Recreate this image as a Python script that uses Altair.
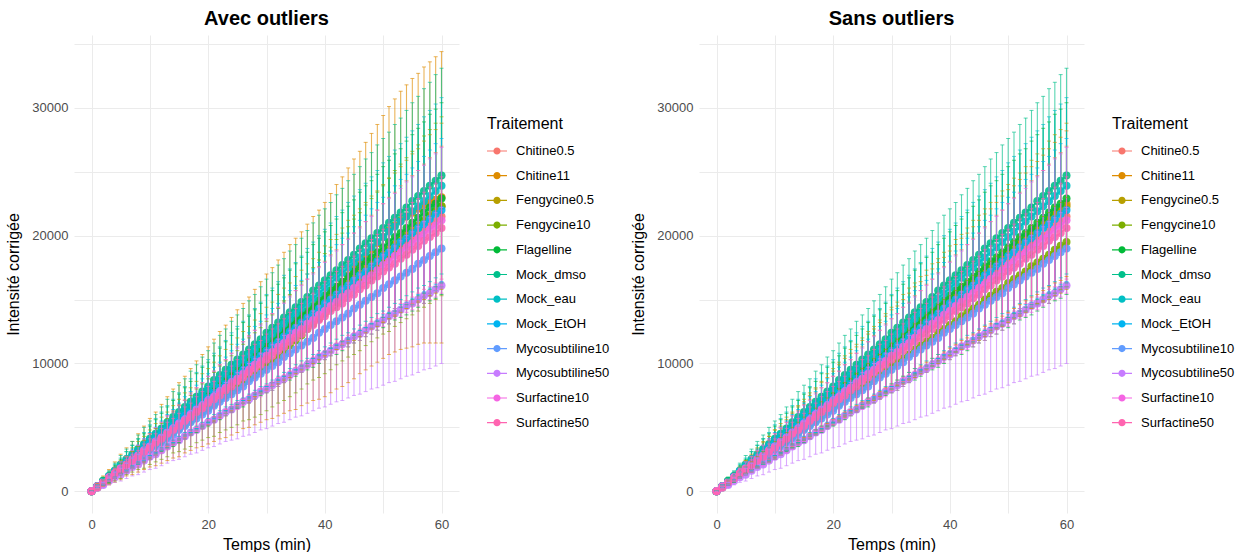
import altair as alt
import pandas as pd

TIMES = list(range(61))
TREATMENTS = ["Chitine0.5", "Chitine11", "Fengycine0.5", "Fengycine10", "Flagelline",
              "Mock_dmso", "Mock_eau", "Mock_EtOH", "Mycosubtiline10", "Mycosubtiline50",
              "Surfactine10", "Surfactine50"]
COLORS = ["#F8766D", "#DE8C00", "#B79F00", "#7CAE00", "#00BA38", "#00C08B",
          "#00BFC4", "#00B4F0", "#619CFF", "#C77CFF", "#F564E3", "#FF64B0"]

# Mean corrected intensity, in hundreds, one value per minute (0..60)
M_CHITINE05 = [0,4,7,11,14,18,21,25,29,32,36,39,43,47,50,54,57,61,64,68,72,75,79,82,86,90,93,97,100,104,107,111,115,118,122,125,129,132,136,140,143,147,150,154,158,161,165,168,172,175,179,183,186,190,193,197,200,204,208,211,215]
M_CHITINE11_AVEC = [0,4,8,11,15,19,23,26,30,34,38,41,45,49,53,56,60,64,68,71,75,79,83,86,90,94,98,101,105,109,113,116,120,124,128,131,135,139,143,146,150,155,160,164,169,174,179,184,189,194,199,204,208,212,215,218,221,224,226,228,230]
M_CHITINE11_SANS = [0,4,8,11,15,19,23,26,30,34,38,41,45,49,53,56,60,64,68,71,75,79,83,86,90,94,98,101,105,109,113,116,120,124,128,131,135,139,143,146,150,154,158,161,165,169,173,176,180,184,188,191,195,199,203,206,210,214,218,221,225]
M_FENGY05 = [0,4,7,11,15,19,22,26,30,33,37,41,45,48,52,56,60,63,67,71,74,78,82,86,89,93,97,100,104,108,112,115,119,123,126,130,134,138,141,145,149,153,156,160,164,167,171,175,179,182,186,190,193,197,201,205,208,212,216,219,223]
M_FENGY10_AVEC = [0,3,7,10,13,16,20,23,26,29,33,36,39,42,46,49,52,55,59,62,65,68,72,75,78,81,85,88,91,94,98,102,106,110,114,118,122,127,131,135,139,143,148,152,156,160,164,169,173,177,181,185,190,194,198,202,206,211,215,219,223]
M_FENGY10_SANS = [0,3,7,10,13,16,20,23,26,29,33,36,39,42,46,49,52,55,59,62,65,68,72,75,78,81,85,88,91,94,98,101,104,107,111,114,117,120,124,127,130,133,137,140,143,146,150,153,156,159,163,166,169,172,176,179,182,185,189,192,195]
M_FLAG = [0,4,8,11,15,19,23,27,31,34,38,42,46,50,53,57,61,65,69,73,76,80,84,88,92,96,99,103,107,111,115,118,122,126,130,134,138,141,145,149,153,157,160,164,168,172,176,180,183,187,191,195,199,202,206,210,214,218,222,225,229]
M_DMSO = [0,4,8,12,16,21,25,29,33,37,41,45,49,54,58,62,66,70,74,78,82,87,91,95,99,103,107,111,115,119,124,128,132,136,140,144,148,152,157,161,165,169,173,177,181,185,190,194,198,202,206,210,214,218,222,227,231,235,239,243,247]
M_EAU = [0,4,8,12,16,20,24,28,32,36,40,44,48,52,56,60,64,68,72,76,80,84,88,92,96,100,103,107,111,115,119,123,127,131,135,139,143,147,151,155,159,163,167,171,175,179,183,187,191,195,199,203,207,211,215,219,223,227,231,235,239]
M_ETOH = [0,4,7,11,15,18,22,26,29,33,37,40,44,48,51,55,59,62,66,70,73,77,81,84,88,92,95,99,103,106,110,114,117,121,125,128,132,136,139,143,147,150,154,158,161,165,169,172,176,180,184,187,191,195,198,202,206,209,213,217,220]
M_MYCO10 = [0,3,6,10,13,16,19,22,25,29,32,35,38,41,44,48,51,54,57,60,63,67,70,73,76,79,82,86,89,92,95,98,101,105,108,111,114,117,120,124,127,130,133,136,139,143,146,149,152,155,159,162,165,168,171,174,178,181,184,187,190]
M_MYCO50 = [0,3,5,8,11,13,16,19,21,24,27,29,32,35,38,40,43,46,48,51,54,56,59,62,64,67,70,72,75,78,80,83,86,88,91,94,96,99,102,105,107,110,113,115,118,121,123,126,129,131,134,137,139,142,145,147,150,153,155,158,161]
M_SURF10 = [0,4,7,11,14,18,21,25,28,32,35,39,42,46,49,53,56,60,64,67,71,74,78,81,85,88,92,95,99,102,106,109,113,116,120,124,127,131,134,138,141,145,148,152,155,159,162,166,169,173,177,180,184,187,191,194,198,201,205,208,212]
M_SURF50 = [0,3,7,10,14,17,21,24,27,31,34,38,41,45,48,51,55,58,62,65,69,72,75,79,82,86,89,93,96,99,103,106,110,113,117,120,123,127,130,134,137,141,144,147,151,154,158,161,165,168,172,175,178,182,185,189,192,196,199,202,206]

# Standard deviations, in hundreds, one value per minute (0..60)
S_CHITINE05 = [0,1,2,3,4,5,6,6,7,8,9,10,11,12,13,14,15,16,17,17,18,19,20,21,22,23,24,25,26,27,28,28,29,30,31,32,33,34,35,36,37,38,39,39,40,41,42,43,44,45,46,47,48,49,50,50,51,52,53,54,55]
S_CHITINE11_AVEC = [0,2,4,6,8,10,11,13,15,17,19,21,23,25,27,29,30,32,34,36,38,40,42,44,46,48,49,51,53,55,57,59,61,63,65,67,68,70,72,74,76,78,80,82,84,86,87,89,91,93,95,97,99,101,103,105,106,108,110,112,114]
S_CHITINE11_SANS = [0,1,2,3,4,5,6,7,8,9,10,10,11,12,13,14,15,16,17,18,19,20,21,22,23,24,25,26,27,28,29,29,30,31,32,33,34,35,36,37,38,39,40,41,42,43,44,45,46,47,48,48,49,50,51,52,53,54,55,56,57]
S_FENGY05 = [0,1,2,3,4,5,6,8,9,10,11,12,13,14,15,16,17,18,19,21,22,23,24,25,26,27,28,29,30,31,32,33,35,36,37,38,39,40,41,42,43,44,45,46,48,49,50,51,52,53,54,55,56,57,58,59,60,62,63,64,65]
S_FENGY10_AVEC = [0,1,2,4,5,6,7,8,9,11,12,13,14,15,16,18,19,20,21,22,23,25,26,27,28,29,30,32,33,34,35,36,37,39,40,41,42,43,44,46,47,48,49,50,51,53,54,55,56,57,58,60,61,62,63,64,65,67,68,69,70]
S_FENGY10_SANS = [0,1,1,2,2,3,3,4,5,5,6,6,7,8,8,9,9,10,11,11,12,12,13,13,14,15,15,16,16,17,18,18,19,19,20,20,21,22,22,23,23,24,25,25,26,26,27,27,28,29,29,30,30,31,32,32,33,33,34,34,35]
S_FLAG = [0,1,3,4,5,6,8,9,10,11,13,14,15,16,18,19,20,21,23,24,25,26,28,29,30,31,33,34,35,36,38,39,40,41,43,44,45,46,48,49,50,51,53,54,55,56,58,59,60,61,63,64,65,66,68,69,70,71,73,74,75]
S_DMSO = [0,1,3,4,6,7,8,10,11,13,14,15,17,18,20,21,22,24,25,27,28,29,31,32,34,35,36,38,39,41,42,43,45,46,48,49,50,52,53,55,56,57,59,60,62,63,64,66,67,69,70,71,73,74,76,77,78,80,81,83,84]
S_EAU = [0,1,2,3,5,6,7,8,9,10,12,13,14,15,16,17,18,20,21,22,23,24,25,26,28,29,30,31,32,33,35,36,37,38,39,40,41,43,44,45,46,47,48,49,51,52,53,54,55,56,58,59,60,61,62,63,64,66,67,68,69]
S_ETOH = [0,1,2,3,4,5,6,7,7,8,9,10,11,12,13,14,15,16,17,18,19,20,20,21,22,23,24,25,26,27,28,29,30,31,32,33,33,34,35,36,37,38,39,40,41,42,43,44,45,46,46,47,48,49,50,51,52,53,54,55,56]
S_MYCO10 = [0,1,1,2,2,3,3,4,4,5,5,6,6,7,7,8,8,9,9,10,10,11,11,12,12,13,13,14,14,15,15,16,16,17,17,18,18,19,19,20,20,21,21,22,22,23,23,24,24,25,25,26,26,27,27,28,28,29,29,30,30]
S_MYCO50 = [0,1,2,3,4,5,6,7,8,9,10,11,12,13,14,15,16,17,18,19,20,21,22,23,24,26,27,28,29,30,31,32,33,34,35,36,37,38,39,40,41,42,43,44,45,46,47,48,49,50,51,52,53,54,55,56,57,58,59,60,61]
S_SURF10 = [0,1,2,3,4,5,6,7,8,9,10,11,12,13,13,14,15,16,17,18,19,20,21,22,23,24,25,26,27,28,29,30,31,31,32,33,34,35,36,37,38,39,40,41,42,43,44,45,46,47,48,49,49,50,51,52,53,54,55,56,57]
S_SURF50 = [0,1,1,2,3,3,4,5,5,6,7,7,8,9,9,10,11,11,12,13,13,14,15,15,16,17,17,18,19,19,20,21,21,22,23,23,24,25,25,26,27,27,28,29,29,30,31,31,32,33,33,34,35,35,36,37,37,38,39,39,40]

AVEC = {
    "Chitine0.5": (M_CHITINE05, S_CHITINE05),
    "Chitine11": (M_CHITINE11_AVEC, S_CHITINE11_AVEC),
    "Fengycine0.5": (M_FENGY05, S_FENGY05),
    "Fengycine10": (M_FENGY10_AVEC, S_FENGY10_AVEC),
    "Flagelline": (M_FLAG, S_FLAG),
    "Mock_dmso": (M_DMSO, S_DMSO),
    "Mock_eau": (M_EAU, S_EAU),
    "Mock_EtOH": (M_ETOH, S_ETOH),
    "Mycosubtiline10": (M_MYCO10, S_MYCO10),
    "Mycosubtiline50": (M_MYCO50, S_MYCO50),
    "Surfactine10": (M_SURF10, S_SURF10),
    "Surfactine50": (M_SURF50, S_SURF50),
}
SANS = dict(AVEC)
SANS["Chitine11"] = (M_CHITINE11_SANS, S_CHITINE11_SANS)
SANS["Fengycine10"] = (M_FENGY10_SANS, S_FENGY10_SANS)


def table(d):
    rows = []
    for i, name in enumerate(TREATMENTS):
        m, s = d[name]
        for t in TIMES:
            mean = m[t] * 100
            sd = s[t] * 100
            rows.append({"Temps": t, "Traitement": name, "order": i,
                         "mean": mean, "lo": mean - sd, "hi": mean + sd})
    return pd.DataFrame(rows)


FONT = "Liberation Sans"
LEGEND_SYMBOL = ("M-1,-0.06H1V0.06H-1Z "
                 "M0.36,0A0.36,0.36,0,1,1,-0.36,0A0.36,0.36,0,1,1,0.36,0Z")


def panel(df, title):
    xs = alt.Scale(domain=[-3, 63], nice=False, zero=False)
    ys = alt.Scale(domain=[-1700, 35700], nice=False, zero=False)
    cs = alt.Scale(domain=TREATMENTS, range=COLORS)
    xax = alt.Axis(values=[0, 10, 20, 30, 40, 50, 60],
                   labelExpr="datum.value % 20 == 0 ? datum.label : ''",
                   title="Temps (min)", titlePadding=5, labelPadding=5)
    yax = alt.Axis(values=[0, 5000, 10000, 15000, 20000, 25000, 30000, 35000],
                   labelExpr="datum.value % 10000 == 0 ? datum.label : ''",
                   format="d", title="Intensité corrigée")
    base = alt.Chart(df)
    x = alt.X("Temps:Q", scale=xs, axis=xax)
    no_leg = alt.Color("Traitement:N", scale=cs, legend=None)
    # legend carrier (draws nothing: empty after filter)
    legend_layer = base.transform_filter("false").mark_point(filled=True).encode(
        x=x, y=alt.Y("mean:Q", scale=ys, axis=yax),
        color=alt.Color("Traitement:N", scale=cs,
                        legend=alt.Legend(title="Traitement", orient="none",
                                          legendX=413, legendY=81,
                                          symbolType=LEGEND_SYMBOL, symbolSize=400,
                                          symbolStrokeWidth=0, symbolOpacity=1,
                                          labelFontSize=13, titleFontSize=16,
                                          titleFontWeight="normal", titleColor="black",
                                          labelColor="black", rowPadding=7.7,
                                          titlePadding=9, labelOffset=9)),
    )
    lines = base.mark_line(strokeWidth=1.2).encode(
        x=x, y=alt.Y("mean:Q", scale=ys),
        color=no_leg, order=alt.Order("Temps:Q"), detail="Traitement:N",
    )
    points = base.mark_point(filled=True, size=65, opacity=0.9).encode(
        x=x, y=alt.Y("mean:Q", scale=ys), color=no_leg,
    )
    bars = base.mark_rule(strokeWidth=1.1, opacity=0.65).encode(
        x=x, y=alt.Y("lo:Q", scale=ys), y2="hi:Q", color=no_leg,
    )
    caps_lo = base.mark_tick(orient="horizontal", size=4, thickness=1, opacity=0.65).encode(
        x=x, y=alt.Y("lo:Q", scale=ys), color=no_leg,
    )
    caps_hi = base.mark_tick(orient="horizontal", size=4, thickness=1, opacity=0.65).encode(
        x=x, y=alt.Y("hi:Q", scale=ys), color=no_leg,
    )
    return alt.layer(legend_layer, lines, points, bars, caps_lo, caps_hi).properties(
        width=385, height=478,
        title=alt.TitleParams(title, fontSize=20, fontWeight="bold",
                              anchor="middle", offset=6, color="black"),
    )


left = panel(table(AVEC), "Avec outliers")
right = panel(table(SANS), "Sans outliers")

chart = alt.hconcat(left, right, spacing=20).resolve_scale(
    color="independent").resolve_legend(color="independent").properties(
    padding={"left": 5, "top": 9, "right": 5, "bottom": 0}
).configure(font=FONT).configure_view(stroke=None).configure_axis(
    grid=True, gridColor="#EBEBEB", gridWidth=1, domain=False, ticks=False,
    labelFontSize=13, labelColor="#4D4D4D", labelPadding=6,
    titleFontSize=16, titleFontWeight="normal", titleColor="black", titlePadding=10,
)

chart.save("out.html", embed_options={"renderer": "svg", "actions": False})
